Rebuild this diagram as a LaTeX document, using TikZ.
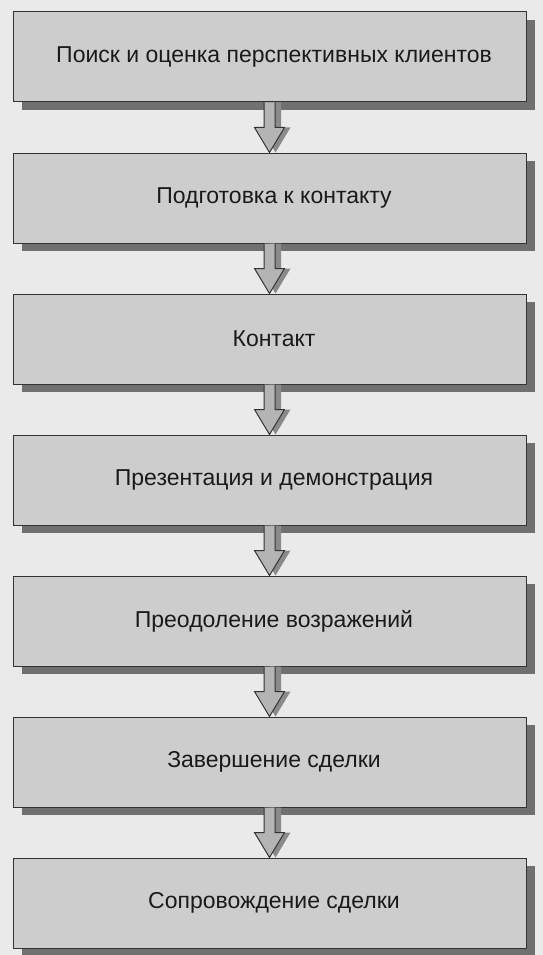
\documentclass[tikz,border=0pt]{standalone}
\usepackage{fontspec}
\setmainfont{Liberation Sans}
\usetikzlibrary{calc, positioning, shadows}

% Block arrow from the bottom of one stage to the top of the next
\newcommand{\stageArrow}[2]{%
    \fill[arrowShadow] ($(#1.south)+(0.5,0)$) -- ($(#2.north)+(0.5,25)$) -- ($(#2.north)+(-9,25)$)
        -- ($(#2.north)+(6,0)$) -- ($(#2.north)+(21,25)$) -- ($(#2.north)+(11.5,25)$)
        -- ($(#1.south)+(11.5,0)$) -- cycle;
    \filldraw[fill=arrowColour, draw=borderColour, line width=1pt]
        ($(#1.south)+(-5.5,0)$) -- ($(#2.north)+(-5.5,25)$) -- ($(#2.north)+(-15,25)$)
        -- (#2.north) -- ($(#2.north)+(15,25)$) -- ($(#2.north)+(5.5,25)$)
        -- ($(#1.south)+(5.5,0)$);
}

\begin{document}
\begin{tikzpicture}[x=1pt, y=1pt,
    stage/.style={draw=borderColour, line width=1pt, fill=fillColour,
        minimum width=513pt, minimum height=90pt, inner sep=0pt,
        font=\fontsize{23}{27}\selectfont, text=textColour,
        execute at begin node=\hspace*{9pt},
        drop shadow={shadow xshift=9pt, shadow yshift=-8pt, fill=shadowColour, opacity=1}},
    node distance=50pt]

    \definecolor{borderColour}{HTML}{333333}
    \definecolor{fillColour}{HTML}{CDCDCD}
    \definecolor{shadowColour}{HTML}{707070}
    \definecolor{arrowColour}{HTML}{B4B4B4}
    \definecolor{arrowShadow}{HTML}{8A8A8A}
    \definecolor{textColour}{HTML}{1A1A1A}
    \definecolor{bgColour}{HTML}{EAEAEA}

    % Page background
    \fill[bgColour] (0,0) rectangle (543,-955);
    \useasboundingbox (0,0) rectangle (543,-955);

    % Stages of the sale
    \node[stage] (search) at (269.5,-57) {Поиск и оценка перспективных клиентов};
    \node[stage, below=of search] (prepare) {Подготовка к контакту};
    \node[stage, below=of prepare] (contact) {Контакт};
    \node[stage, below=of contact] (present) {Презентация и демонстрация};
    \node[stage, below=of present] (objections) {Преодоление возражений};
    \node[stage, below=of objections] (closing) {Завершение сделки};
    \node[stage, below=of closing] (followup) {Сопровождение сделки};

    % Arrows between stages
    \foreach \a/\b in {search/prepare, prepare/contact, contact/present,
        present/objections, objections/closing, closing/followup}
        \stageArrow{\a}{\b};

\end{tikzpicture}
\end{document}
